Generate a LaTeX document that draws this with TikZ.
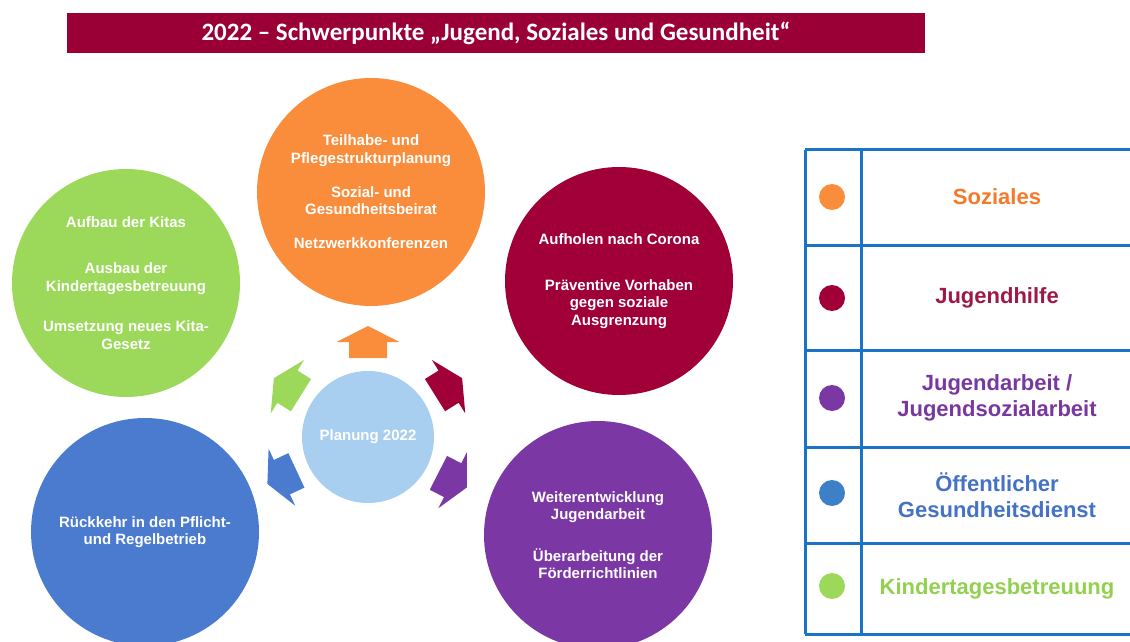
\documentclass[tikz,border=0pt]{standalone}
\usepackage{fontspec}
\setmainfont{Liberation Sans}
\newfontfamily\titlefont{Carlito}
\definecolor{titlered}{HTML}{9A0036}
\definecolor{corange}{HTML}{F98D3C}
\definecolor{cgreen}{HTML}{9CD85A}
\definecolor{cmaroon}{HTML}{A00037}
\definecolor{cblue}{HTML}{4A7BCF}
\definecolor{cpurple}{HTML}{7B38A5}
\definecolor{clight}{HTML}{A8CEF0}
\definecolor{tableblue}{HTML}{1A73C4}
\definecolor{dotblue}{HTML}{3E80C8}
\definecolor{txtorange}{HTML}{F47A2A}
\definecolor{txtmaroon}{HTML}{9E1A45}
\definecolor{txtpurple}{HTML}{7838A0}
\definecolor{txtblue}{HTML}{4472C4}
\definecolor{txtgreen}{HTML}{92D050}
\begin{document}
\begin{tikzpicture}[x=1bp,y=1bp,
  circ/.style={circle, minimum size=228bp, inner sep=0pt, text=white, align=center,
    font=\fontsize{15bp}{17.5bp}\selectfont\bfseries},
  titlebar/.style={fill=titlered, minimum width=858bp, minimum height=40bp, inner sep=0pt,
    text=white, font=\titlefont\fontsize{25bp}{28bp}\selectfont\bfseries},
  tableline/.style={draw=tableblue, line width=3bp},
  legdot/.style={circle, minimum size=26bp, inner sep=0pt},
  legtext/.style={align=center, font=\fontsize{22bp}{26bp}\selectfont\bfseries},
  radarrow/.style={line join=miter}]
\useasboundingbox (0,-642) rectangle (1130,0);
\clip (0,-642) rectangle (1130,0);

% title
\node[titlebar] (title) at (496,-33) {2022 – Schwerpunkte „Jugend, Soziales und Gesundheit“};

% outer circles
\node[circ, fill=corange] (soz) at (371,-192) {Teilhabe- und\\Pflegestrukturplanung\\[16.5bp]Sozial- und\\Gesundheitsbeirat\\[16.5bp]Netzwerkkonferenzen};
\node[circ, fill=cgreen] (kita) at (126,-283) {Aufbau der Kitas\\[29bp]Ausbau der\\Kindertagesbetreuung\\[23bp]Umsetzung neues Kita-\\Gesetz};
\node[circ, fill=cmaroon] (jh) at (619,-281) {Aufholen nach Corona\\[28bp]Präventive Vorhaben\\gegen soziale\\Ausgrenzung};
\node[circ, fill=cblue] (oegd) at (145,-532) {Rückkehr in den Pflicht-\\und Regelbetrieb};
\node[circ, fill=cpurple] (ja) at (598,-535) {Weiterentwicklung\\Jugendarbeit\\[24bp]Überarbeitung der\\Förderrichtlinien};

% center
\node[circ, fill=clight, minimum size=132bp] (plan) at (368,-437) {Planung 2022};

% arrows
\foreach \ang/\col in {90/corange, 148/cgreen, 32/cmaroon, -27/cpurple, -155/cblue}{
  \fill[radarrow, \col, shift={(plan.center)}, rotate=\ang]
    (79,-19) -- (95,-19) -- (95,-31.5) -- (111,0) -- (95,31.5) -- (95,19) -- (79,19) -- cycle;
}

% legend table
\foreach \yy in {150,246,350,447,543,634}{
  \draw[tableline] (805,-\yy) -- (1131,-\yy);
}
\draw[tableline] (805,-150) -- (805,-634);
\draw[tableline] (861,-150) -- (861,-634);

\node[legdot, fill=corange] (d1) at (832,-197) {};
\node[legdot, fill=cmaroon] (d2) at (832,-298) {};
\node[legdot, fill=cpurple] (d3) at (832,-398) {};
\node[legdot, fill=dotblue] (d4) at (832,-493) {};
\node[legdot, fill=cgreen] (d5) at (832,-586) {};

\node[legtext, text=txtorange] (l1) at (997,-197) {Soziales};
\node[legtext, text=txtmaroon] (l2) at (997,-298) {Jugendhilfe};
\node[legtext, text=txtpurple] (l3) at (997,-398) {Jugendarbeit /\\Jugendsozialarbeit};
\node[legtext, text=txtblue] (l4) at (997,-495) {Öffentlicher\\Gesundheitsdienst};
\node[legtext, text=txtgreen] (l5) at (997,-589) {Kindertagesbetreuung};
\end{tikzpicture}
\end{document}
